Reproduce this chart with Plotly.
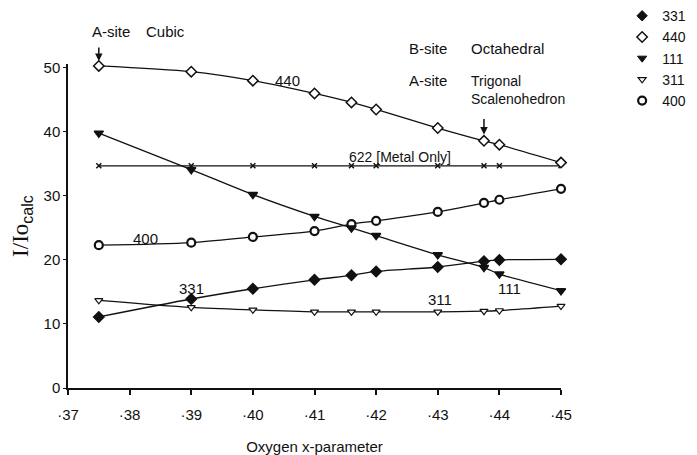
import plotly.graph_objects as go

# ---- data ----
x_param = [0.375, 0.39, 0.40, 0.41, 0.416, 0.42, 0.43, 0.4375, 0.44, 0.45]
i331 = [11.1, 13.9, 15.5, 16.9, 17.6, 18.2, 18.9, 19.8, 20.0, 20.1]
i440 = [50.3, 49.4, 48.0, 46.0, 44.6, 43.5, 40.6, 38.6, 38.0, 35.2]
i111 = [39.8, 34.1, 30.2, 26.8, 25.0, 23.8, 20.8, 18.8, 17.8, 15.2]
i311 = [13.7, 12.6, 12.2, 11.9, 11.9, 11.9, 11.9, 12.0, 12.1, 12.8]
i400 = [22.3, 22.7, 23.6, 24.5, 25.6, 26.1, 27.5, 28.9, 29.4, 31.1]
i622 = [34.7, 34.7, 34.7, 34.7, 34.7, 34.7, 34.7, 34.7, 34.7, 34.7]

x_ticks = [0.37, 0.38, 0.39, 0.40, 0.41, 0.42, 0.43, 0.44, 0.45]
x_ticktext = ["·37", "·38", "·39", "·40", "·41", "·42", "·43", "·44", "·45"]
y_ticks = [0, 10, 20, 30, 40, 50]

FONT = "Liberation Sans, Arial, Helvetica, sans-serif"
BLACK = "#111111"

fig = go.Figure()

def line_trace(y, symbol, size, fill, lw=1.5):
    return go.Scatter(
        x=x_param, y=y, mode="lines+markers",
        line=dict(color=BLACK, width=1.3, shape="spline", smoothing=0.8),
        marker=dict(symbol=symbol, size=size, color=fill,
                    line=dict(color=BLACK, width=lw)),
        showlegend=False, hoverinfo="skip", cliponaxis=False,
    )

fig.add_trace(go.Scatter(
    x=x_param, y=i622, mode="lines+markers",
    line=dict(color=BLACK, width=1.3),
    marker=dict(symbol="x-thin", size=5, line=dict(color=BLACK, width=1.5)),
    showlegend=False, hoverinfo="skip"))
fig.add_trace(line_trace(i440, "diamond", 8, "white"))
fig.add_trace(line_trace(i400, "circle", 8, "white", lw=2.2))
fig.add_trace(line_trace(i111, "triangle-down", 8, BLACK))
fig.add_trace(line_trace(i331, "diamond", 8, BLACK))
fig.add_trace(line_trace(i311, "triangle-down", 7, "white", lw=1.2))

# legend entries (marker only)
legend_items = [
    ("331", "diamond", 8, BLACK, 1),
    ("440", "diamond", 8, "white", 1.5),
    ("111", "triangle-down", 8, BLACK, 1),
    ("311", "triangle-down", 7, "white", 1.2),
    ("400", "circle", 8, "white", 2.2),
]
for name, sym, sz, fill, lw in legend_items:
    fig.add_trace(go.Scatter(
        x=[None], y=[None], mode="markers", name=name,
        marker=dict(symbol=sym, size=sz, color=fill, line=dict(color=BLACK, width=lw)),
        showlegend=True))

ann = []
def txt(text, x, y, xanchor="center", yref="y", size=15, yanchor="middle"):
    ann.append(dict(text=text, x=x, y=y, xref="x", yref=yref, xanchor=xanchor,
                    yanchor=yanchor, showarrow=False, align="left",
                    font=dict(family=FONT, size=size, color=BLACK)))

txt("A-site", 0.37357, 1.099, "left", "paper")
txt("Cubic", 0.38234, 1.099, "left", "paper")
txt("B-site", 0.42503, 1.049, "left", "paper")
txt("Octahedral", 0.43510, 1.049, "left", "paper")
txt("A-site", 0.42503, 48.1, "left")
txt("Trigonal<br>Scalenohedron", 0.43510, 49.5, "left", size=14, yanchor="top")
txt("440", 0.4056, 48.0)
txt("622 [Metal Only]", 0.4239, 36.1, size=14)
txt("400", 0.3825, 23.4)
txt("331", 0.3900, 15.6)
txt("311", 0.4304, 13.75)
txt("111", 0.4416, 15.6)

ann.append(dict(x=0.375, y=1.009, xref="x", yref="paper", ax=0, ay=-15,
                showarrow=True, arrowhead=2, arrowsize=1, arrowwidth=1.5,
                arrowcolor=BLACK, text=""))
ann.append(dict(x=0.4375, y=39.6, xref="x", yref="y", ax=0, ay=-17,
                showarrow=True, arrowhead=2, arrowsize=1, arrowwidth=1.5,
                arrowcolor=BLACK, text=""))

# the page body adds an 8px offset, so the figure is 8px smaller
fig.update_layout(
    width=689, height=447, autosize=False,
    margin=dict(l=60, r=136, t=56, b=67, autoexpand=False),
    paper_bgcolor="white", plot_bgcolor="white",
    font=dict(family=FONT, size=15, color=BLACK),
    annotations=ann,
    legend=dict(x=1.124, y=1.197, xanchor="left", yanchor="top",
                font=dict(family=FONT, size=14, color=BLACK),
                bgcolor="rgba(0,0,0,0)", borderwidth=0, itemwidth=30,
                tracegroupgap=0),
    xaxis=dict(range=[0.37, 0.45], tickvals=x_ticks, ticktext=x_ticktext,
               showline=True, linecolor=BLACK, linewidth=1.5,
               ticks="outside", ticklen=5, tickwidth=1.5, tickcolor=BLACK,
               ticklabelstandoff=7,
               showgrid=False, zeroline=False,
               tickfont=dict(family=FONT, size=15, color=BLACK),
               title=dict(text="Oxygen x-parameter", standoff=33,
                          font=dict(family=FONT, size=15, color=BLACK))),
    yaxis=dict(range=[0, 50.6], tickvals=y_ticks,
               showline=True, linecolor=BLACK, linewidth=1.5,
               ticks="outside", ticklen=3, tickwidth=1.2, tickcolor=BLACK,
               showgrid=False, zeroline=False,
               tickfont=dict(family=FONT, size=15, color=BLACK),
               title=dict(text="I/Io<sub><span style=\"font-family:Liberation Sans\">calc</span></sub>",
                          standoff=15,
                          font=dict(family="Liberation Serif, Times New Roman, serif",
                                    size=23, color=BLACK))),
)

fig.write_html("out.html")
